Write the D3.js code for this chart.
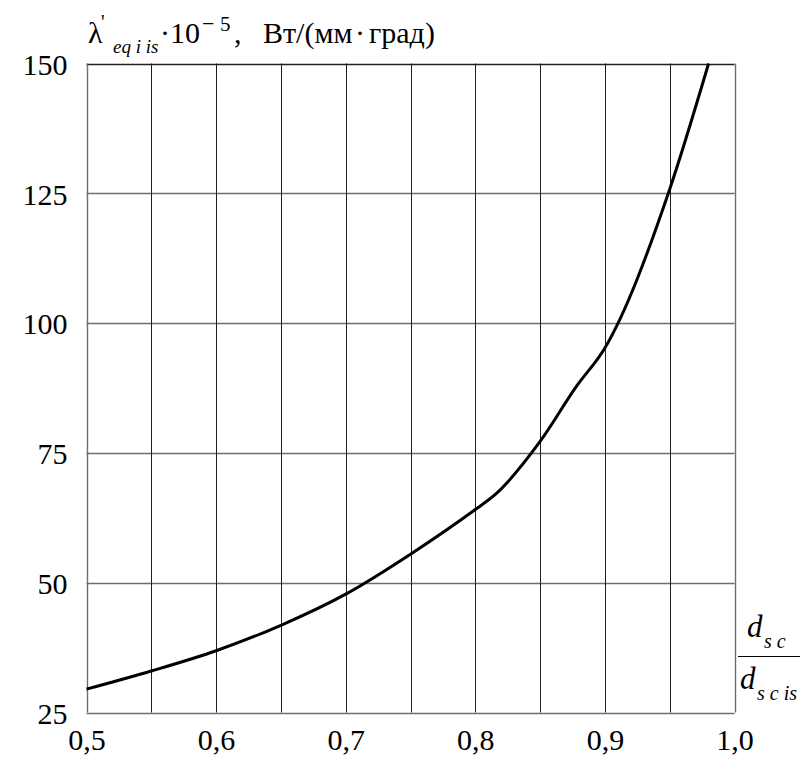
<!DOCTYPE html>
<html>
<head>
<meta charset="utf-8">
<script src="https://cdn.jsdelivr.net/npm/d3@7"></script>
<style>
  @font-face { font-family: "PlotSerif"; src: local("Liberation Serif"), local("LiberationSerif"); font-style: normal; }
  @font-face { font-family: "PlotSerif"; src: local("Liberation Serif Italic"), local("LiberationSerif-Italic"); font-style: italic; }
  svg text, svg g text { font-family: 'Liberation Serif', PlotSerif !important; }
</style>
</head>
<body style="margin:0">
<svg id="plot" width="801" height="763"></svg>
<script>
// Ratio of diameters d_sc / d_scis
const ratio = [0.50, 0.55, 0.60, 0.65, 0.70, 0.75, 0.80, 0.815, 0.85, 0.878, 0.90, 0.95, 0.98];
// Equivalent thermal conductivity, ×10^-5 W/(mm·deg)
const lambdaEq = [29.5, 33.0, 36.9, 41.8, 47.8, 55.5, 64.1, 66.9, 77.2, 87.8, 95.2, 125.8, 150.0];

const xGrid = [0.50, 0.55, 0.60, 0.65, 0.70, 0.75, 0.80, 0.85, 0.90, 0.95, 1.00];
const xTicks = [0.5, 0.6, 0.7, 0.8, 0.9, 1.0];
const xTickLabels = ["0,5", "0,6", "0,7", "0,8", "0,9", "1,0"];
const yTicks = [25, 50, 75, 100, 125, 150];
const yTickLabels = ["25", "50", "75", "100", "125", "150"];

const svg = d3.select("#plot");
const plotLeft = 86.5, plotRight = 734.5, plotTop = 63.5, plotBottom = 712.5;

const x = d3.scaleLinear().domain([0.5, 1.0]).range([plotLeft, plotRight]);
const y = d3.scaleLinear().domain([25, 150]).range([plotBottom, plotTop]);

// Horizontal grid lines
svg.append("g")
  .selectAll("line")
  .data(yTicks)
  .join("line")
  .attr("x1", plotLeft).attr("x2", plotRight)
  .attr("y1", d => Math.round(y(d)) + 0.5)
  .attr("y2", d => Math.round(y(d)) + 0.5)
  .attr("stroke", d => d === 150 ? "#222" : "#6e6e6e")
  .attr("stroke-width", 1.4);

// Vertical grid lines
svg.append("g")
  .selectAll("line")
  .data(xGrid)
  .join("line")
  .attr("y1", plotTop).attr("y2", plotBottom)
  .attr("x1", d => Math.round(x(d)) + 0.5)
  .attr("x2", d => Math.round(x(d)) + 0.5)
  .attr("stroke", d => (d === 0.5 || d === 1.0) ? "#6e6e6e" : "#1e1e1e")
  .attr("stroke-width", d => (d === 0.5 || d === 1.0) ? 1.4 : 1);

// Y axis labels
const yAxis = d3.axisLeft(y)
  .tickValues(yTicks)
  .tickFormat((d, i) => yTickLabels[i])
  .tickSize(0)
  .tickPadding(19);
const gy = svg.append("g").attr("transform", `translate(${plotLeft},0)`).call(yAxis);
gy.select(".domain").remove();
gy.attr("font-family", null).attr("font-size", null);
gy.selectAll("text")
  .attr("dy", "0.36em")
  .attr("font-size", 30)
  .attr("fill", "#000");

// X axis labels
const xAxis = d3.axisBottom(x)
  .tickValues(xTicks)
  .tickFormat((d, i) => xTickLabels[i])
  .tickSize(0)
  .tickPadding(16);
const gx = svg.append("g").attr("transform", `translate(0,${plotBottom})`).call(xAxis);
gx.select(".domain").remove();
gx.attr("font-family", null).attr("font-size", null);
gx.selectAll("text")
  .attr("font-size", 30)
  .attr("fill", "#000");

// Curve
const line = d3.line()
  .x((d, i) => x(ratio[i]))
  .y(d => y(d))
  .curve(d3.curveMonotoneX);

svg.append("path")
  .datum(lambdaEq)
  .attr("d", line)
  .attr("fill", "none")
  .attr("stroke", "#000")
  .attr("stroke-width", 3);

// Y axis title: λ'eq i is ·10^-5, Вт/(мм·град)
const t = svg.append("g").attr("fill", "#000");
t.append("text").attr("x", 88).attr("y", 43).attr("font-size", 30).text("λ");
t.append("text").attr("x", 101).attr("y", 29).attr("font-size", 20).text("'");
t.append("text").attr("x", 113).attr("y", 53).attr("font-size", 19).attr("font-style", "italic").text("eq i is");
t.append("text").attr("x", 160).attr("y", 43).attr("font-size", 30).text("·10");
t.append("text").attr("x", 202).attr("y", 31).attr("font-size", 22).text("−");
t.append("text").attr("x", 220).attr("y", 31).attr("font-size", 21).text("5");
t.append("text").attr("x", 234).attr("y", 43).attr("font-size", 30).text(",");
t.append("text").attr("x", 263).attr("y", 43).attr("font-size", 30).text("Вт/(мм");
t.append("text").attr("x", 355).attr("y", 43).attr("font-size", 30).text("·");
t.append("text").attr("x", 369).attr("y", 43).attr("font-size", 30).text("град)");

// X axis title: fraction d_sc / d_scis
const f = svg.append("g").attr("fill", "#000");
f.append("text").attr("x", 747).attr("y", 637).attr("font-size", 31).attr("font-style", "italic").text("d");
f.append("text").attr("x", 764).attr("y", 648).attr("font-size", 20).attr("font-style", "italic").text("s c");
f.append("line").attr("x1", 738).attr("x2", 800).attr("y1", 656.5).attr("y2", 656.5)
  .attr("stroke", "#000").attr("stroke-width", 1.2);
f.append("text").attr("x", 740).attr("y", 689).attr("font-size", 31).attr("font-style", "italic").text("d");
f.append("text").attr("x", 757).attr("y", 700).attr("font-size", 20).attr("font-style", "italic").text("s c is");

// Serif face for every label
svg.selectAll("text").style("font-family", "'Liberation Serif'", "important");
</script>
</body>
</html>
